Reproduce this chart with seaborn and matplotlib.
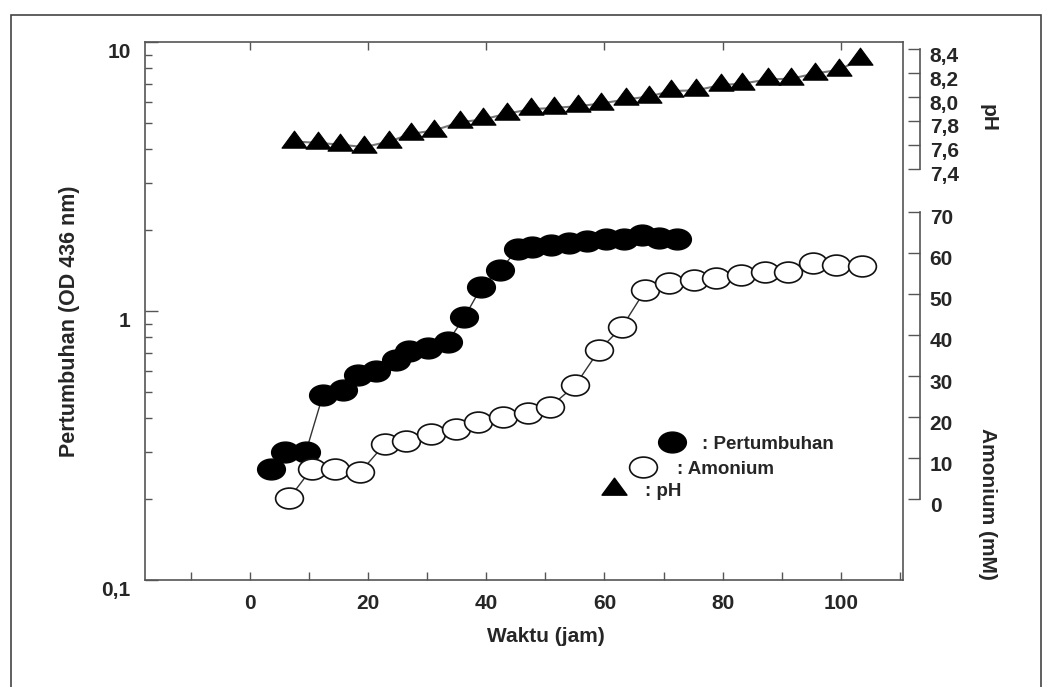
import matplotlib
matplotlib.use('Agg')
import matplotlib.pyplot as plt
import seaborn as sns
from matplotlib.path import Path
from matplotlib.transforms import Affine2D, ScaledTranslation
from matplotlib.lines import Line2D
from matplotlib.patches import Rectangle
from matplotlib.ticker import MultipleLocator, LogLocator, NullFormatter

# growth (OD 436 nm), left log axis
growth_time = [3.6, 6.0, 9.5, 12.4, 15.8, 18.3, 21.4, 24.8, 27.0, 30.1, 33.5, 36.3,
               39.2, 42.3, 45.3, 47.8, 50.9, 54.0, 57.1, 60.2, 63.3, 66.4, 69.2, 72.3]
growth_od = [0.26, 0.30, 0.30, 0.49, 0.51, 0.58, 0.60, 0.66, 0.71, 0.73, 0.77, 0.95,
             1.23, 1.42, 1.70, 1.73, 1.77, 1.79, 1.83, 1.86, 1.86, 1.92, 1.88, 1.86]

# ammonium (mM), lower right axis
nh4_time = [6.7, 10.5, 14.4, 18.7, 22.8, 26.5, 30.7, 34.9, 38.6, 42.8, 47.0, 50.8, 55.1,
            59.1, 63.0, 66.9, 70.9, 75.2, 78.9, 83.1, 87.1, 91.1, 95.3, 99.2, 103.5]
nh4_mm = [0.3, 7.5, 7.5, 6.6, 13.4, 14.2, 15.9, 17.0, 18.9, 20.1, 21.1, 22.5, 27.8,
          36.3, 42.0, 50.9, 52.6, 53.3, 53.8, 54.5, 55.4, 55.4, 57.5, 57.0, 56.8]

# pH, upper right axis
ph_time = [7.5, 11.6, 15.2, 19.4, 23.6, 27.3, 31.1, 35.6, 39.4, 43.6, 47.6, 51.4, 55.6,
           59.4, 63.6, 67.5, 71.3, 75.5, 79.7, 83.3, 87.6, 91.6, 95.6, 99.7, 103.3]
ph_val = [7.627, 7.616, 7.601, 7.581, 7.627, 7.692, 7.719, 7.790, 7.812, 7.862, 7.899,
          7.909, 7.924, 7.946, 7.980, 8.005, 8.051, 8.057, 8.101, 8.113, 8.148, 8.155,
          8.198, 8.229, 8.317]

od_ticks = [0.1, 1, 10]
od_labels = ['0,1', '1', '10']
ph_ticks = [7.4, 7.6, 7.8, 8.0, 8.2, 8.4]
ph_labels = ['7,4', '7,6', '7,8', '8,0', '8,2', '8,4']
nh4_ticks = [0, 10, 20, 30, 40, 50, 60, 70]

sns.set_style('ticks')
plt.rcParams['font.family'] = ['Liberation Sans', 'DejaVu Sans']
plt.rcParams['font.weight'] = 'bold'
plt.rcParams['axes.labelweight'] = 'bold'

# stretched markers like the original
ellipse = Affine2D().scale(1, 0.75).transform_path(Path.unit_circle())
triangle = Path([(-1, -0.453), (1, -0.453), (0, 0.907), (-1, -0.453)],
                [Path.MOVETO, Path.LINETO, Path.LINETO, Path.CLOSEPOLY])

fig = plt.figure(figsize=(10.54, 6.87), dpi=100)
ax = fig.add_axes([0.1371, 0.1553, 0.7196, 0.7831])
ax.set_yscale('log')

spine_col = '#555555'

sns.lineplot(x=growth_time, y=growth_od, ax=ax, color='#333333', lw=1,
             marker=ellipse, markersize=20, markerfacecolor='black',
             markeredgecolor='black', markeredgewidth=1)

ax.set_xlim(-17.8, 110.5)
ax.set_ylim(0.1, 10)
ax.xaxis.set_major_locator(MultipleLocator(20))
ax.xaxis.set_minor_locator(MultipleLocator(10))
ax.set_yticks(od_ticks, od_labels)
ax.yaxis.set_minor_locator(LogLocator(subs=range(2, 10)))
ax.yaxis.set_minor_formatter(NullFormatter())
ax.tick_params(axis='x', which='major', direction='in', top=True, length=6,
               width=1, color=spine_col, pad=10, labelsize=15)
ax.tick_params(axis='x', which='minor', direction='in', top=False, length=6,
               width=1, color=spine_col)
ax.tick_params(axis='y', which='major', direction='in', left=True, right=False,
               length=9, width=1, color=spine_col, pad=10, labelsize=15)
ax.tick_params(axis='y', which='minor', direction='in', left=True, right=False,
               length=5, width=1, color=spine_col)
for s in ax.spines.values():
    s.set_color(spine_col)
    s.set_linewidth(1.2)

ax.set_xlabel('Waktu (jam)', fontsize=15)
ax.xaxis.set_label_coords(0.529, -0.105)
ax.xaxis.label.set_va('center')
ax.set_ylabel('Pertumbuhan (OD 436 nm)', fontsize=15.5)
ax.yaxis.set_label_coords(-0.0995, 0.482)
ax.yaxis.label.set_va('center')

# pH on its own bracket axis
ax_ph = ax.twinx()
sns.lineplot(x=ph_time, y=ph_val, ax=ax_ph, color='#777777', lw=1.5,
             marker=triangle, markersize=18, markerfacecolor='black',
             markeredgecolor='black', markeredgewidth=0.8)

# ammonium on its own bracket axis
ax_nh = ax.twinx()
sns.lineplot(x=nh4_time, y=nh4_mm, ax=ax_nh, color='#333333', lw=1,
             marker=ellipse, markersize=20, markerfacecolor='white',
             markeredgecolor='#111111', markeredgewidth=1.2)

ax_ph.set_ylim(3.943, 8.46)
ax_ph.set_yticks(ph_ticks, ph_labels)
ax_nh.set_ylim(-19.7, 111.2)
ax_nh.set_yticks(nh4_ticks)

for a, lo, hi in [(ax_ph, 7.4, 8.4), (ax_nh, 0, 70)]:
    for s in ['left', 'top', 'bottom']:
        a.spines[s].set_visible(False)
    a.spines['right'].set_position(('axes', 1.0224))
    a.spines['right'].set_bounds(lo, hi)
    a.spines['right'].set_color(spine_col)
    a.spines['right'].set_linewidth(1.2)
    a.tick_params(axis='y', direction='in', length=8.5, width=1, color=spine_col,
                  pad=7, labelsize=15)
    a.set_xlim(-17.8, 110.5)

ax_ph.set_ylabel('pH', fontsize=15, rotation=270)
ax_ph.yaxis.set_label_coords(1.112, 0.859)
ax_nh.set_ylabel('Amonium (mM)', fontsize=15, rotation=270)
ax_nh.yaxis.set_label_coords(1.112, 0.142)
for a in (ax_ph, ax_nh):
    a.yaxis.label.set_va('center')
    a.yaxis.label.set_ha('center')

# key, three staggered entries
keys = [
    (Line2D([], [], ls='none', marker=ellipse, ms=20, mfc='black', mec='black'),
     ': Pertumbuhan', 0.6231, 0.3537, 0.8),
    (Line2D([], [], ls='none', marker=ellipse, ms=20, mfc='white', mec='#111111', mew=1.2),
     ': Amonium', 0.5961, 0.3166, 1.0),
    (Line2D([], [], ls='none', marker=triangle, ms=18, mfc='black', mec='black'),
     ': pH', 0.5683, 0.2853, 0.85),
]
for handle, text, fx, fy, pad in keys:
    fig.legend([handle], [text], loc='center left', bbox_to_anchor=(fx, fy),
               frameon=False, borderpad=0, borderaxespad=0, handlelength=1.6,
               handletextpad=pad, fontsize=13.5)

# outer frame of the picture
fig.add_artist(Rectangle((11 / 1054, -0.05), 1030 / 1054, 1.028, transform=fig.transFigure,
                         fill=False, ec='#444444', lw=1.2))

# tick labels sit a little below their ticks in the original
fig.canvas.draw()
down8 = ScaledTranslation(0, -0.08, fig.dpi_scale_trans)
down5 = ScaledTranslation(0, -0.05, fig.dpi_scale_trans)
for lab in ax.get_yticklabels():
    lab.set_transform(lab.get_transform() + down8)
for a in (ax_ph, ax_nh):
    for lab in a.get_yticklabels():
        lab.set_transform(lab.get_transform() + down5)

plt.savefig('out.png', dpi=100)
plt.close()
